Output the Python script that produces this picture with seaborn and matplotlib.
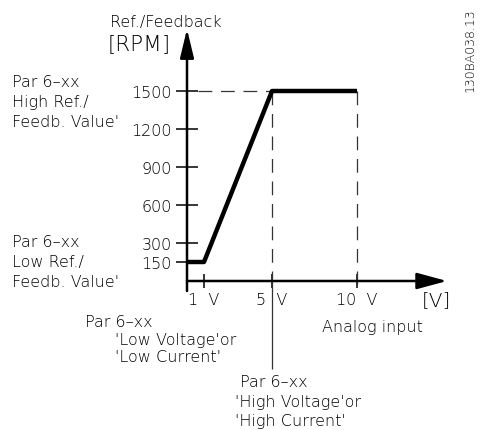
import matplotlib
matplotlib.use("Agg")
import matplotlib.pyplot as plt
import seaborn as sns

# Reference / feedback scaling curve
volts = [0, 1, 5, 10]
rpm = [150, 150, 1500, 1500]
y_ticks = [150, 300, 600, 900, 1200, 1500]
x_ticks = [1, 5, 10]
x_tick_labels = ["1  V", "5  V", "10  V"]

sns.set_style("white")
plt.rcParams["font.family"] = ["DejaVu Sans"]
plt.rcParams["font.weight"] = "light"

FS = 11.5

W, H = 484, 431
fig = plt.figure(figsize=(W / 100, H / 100), dpi=100)
ax = fig.add_axes([0, 0, 1, 1])

# pixel geometry of the drawing area
ox, oy = 187, 282              # origin in pixels (from top-left)
px_volt = 17.0                 # pixels per volt
px_rpm = 38.0 / 300.0          # pixels per rpm
ax.set_xlim(-ox / px_volt, (W - ox) / px_volt)
ax.set_ylim(-(H - oy) / px_rpm, oy / px_rpm)
ax.set_facecolor("white")
fig.patch.set_facecolor("white")

# ticks sit on invisible spines moved to the origin
for side in ("left", "bottom"):
    ax.spines[side].set_position(("data", 0))
    ax.spines[side].set_visible(False)
for side in ("right", "top"):
    ax.spines[side].set_visible(False)

ax.set_yticks(y_ticks)
ax.set_yticklabels([str(v) for v in y_ticks])
ax.set_xticks(x_ticks)
ax.set_xticklabels(x_tick_labels)
ax.tick_params(axis="y", direction="inout", length=15.8, width=1.1, pad=2.9,
               labelsize=FS, colors="black", left=True)
ax.tick_params(axis="x", direction="inout", length=10, width=1.1, pad=3,
               labelsize=FS, colors="black", bottom=True)

# axes with arrow heads
y_top = oy / px_rpm - 30 / px_rpm
x_right = (447 - ox) / px_volt
arrow_y = dict(arrowstyle="-|>,head_length=1.75,head_width=0.42", lw=1.8,
               color="black", shrinkA=0, shrinkB=0, mutation_scale=10)
arrow_x = dict(arrowstyle="-|>,head_length=1.85,head_width=0.5", lw=1.8,
               color="black", shrinkA=0, shrinkB=0, mutation_scale=10)
ax.annotate("", xy=(0, y_top), xytext=(0, -10 / px_rpm), arrowprops=arrow_y)
ax.annotate("", xy=(x_right, 0), xytext=(0, 0), arrowprops=arrow_x)

# guide lines
low_v, high_v, max_v = volts[1], volts[2], volts[3]
high_ref = rpm[2]
dash = dict(color="#333333", lw=0.9, ls=(0, (11, 7)))
ax.plot([11 / px_volt, high_v], [high_ref, high_ref], **dash)
ax.plot([high_v, high_v], [high_ref, 0], **dash)
ax.plot([max_v, max_v], [high_ref, -8 / px_rpm], **dash)
ax.plot([high_v, high_v], [0, -(370 - oy) / px_rpm], color="#333333", lw=0.9)

# main curve
sns.lineplot(x=volts, y=rpm, color="black", lw=3.2, ax=ax, sort=False)
for ln in ax.lines:
    ln.set_solid_capstyle("butt")

# labels placed in pixel positions (left x, baseline y)
def label(x, y, s, size=FS, **kw):
    fig.text(x / W, 1 - y / H, s, fontsize=size, va="baseline", ha="left",
             color="black", **kw)

label(110, 27, "Ref./Feedback")
label(108, 50, "[RPM]", size=15.5)
label(12, 87, "Par 6–xx")
label(12, 107, "High Ref./")
label(12, 127, "Feedb. Value'")
label(12, 247, "Par 6–xx")
label(12, 267, "Low Ref./")
label(12, 287, "Feedb. Value'")
label(422, 306, "[V]", size=14.5)
label(322, 332, "Analog input")
label(85, 327, "Par 6–xx")
label(115, 345, "'Low Voltage'or")
label(115, 362, "'Low Current'")
label(240, 387, "Par 6–xx")
label(235, 407, "'High Voltage'or")
label(235, 426, "'High Current'")
fig.text(470 / W, 1 - 50 / H, "130BA038.13", fontsize=9, rotation=90,
         ha="center", va="center", color="black")

fig.savefig("out.png", dpi=100)
